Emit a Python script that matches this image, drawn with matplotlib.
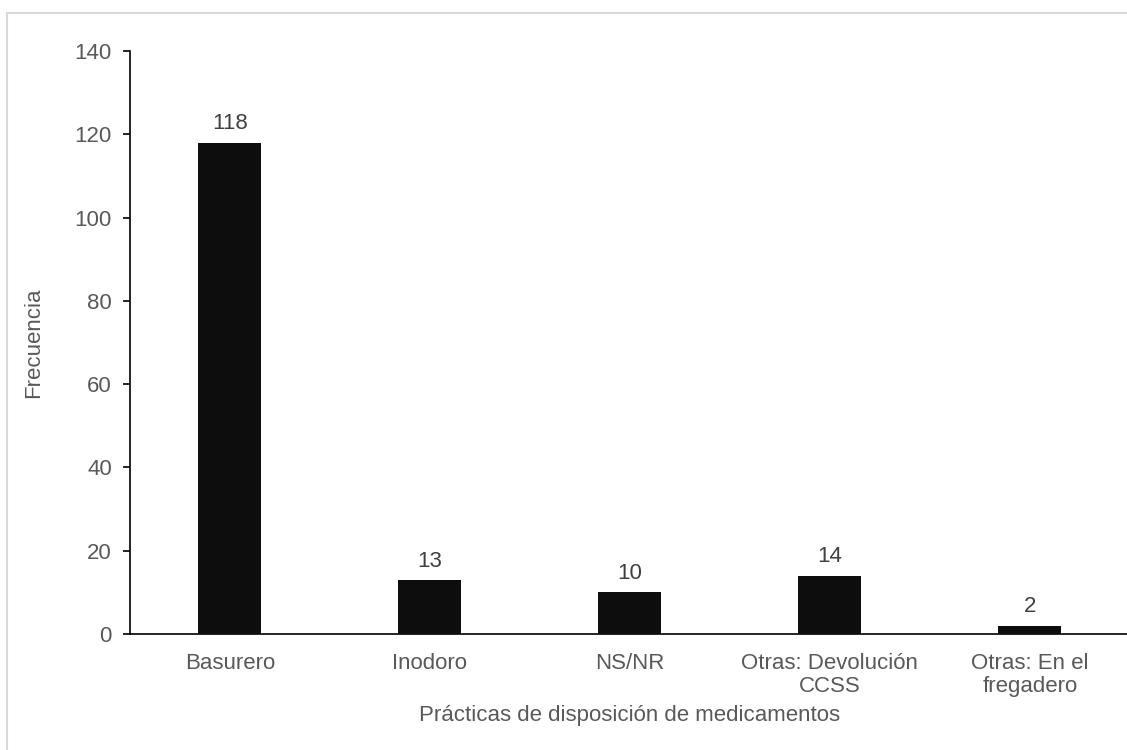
import matplotlib.pyplot as plt
from matplotlib.patches import Rectangle

plt.rcParams['font.family'] = ['Liberation Sans', 'DejaVu Sans']

# Frequencies of each medication disposal practice
categories = ['Basurero', 'Inodoro', 'NS/NR', 'Otras: Devolución\nCCSS', 'Otras: En el\nfregadero']
frequency = [118, 13, 10, 14, 2]
yticks = [0, 20, 40, 60, 80, 100, 120, 140]

text_color = '#595959'
fs = 16

fig = plt.figure(figsize=(11.27, 7.5), dpi=100)
ax = fig.add_axes([0.1153, 0.1547, 0.8873, 0.7773])

pos = list(range(len(categories)))
bars = ax.bar(pos, frequency, width=0.315, color='#0d0d0d', zorder=3)

# Value labels over each bar
for x, v in zip(pos, frequency):
    ax.annotate(str(v), (x, v), xytext=(0, 6), textcoords='offset points',
                ha='center', va='bottom', fontsize=fs, color='#404040')

ax.set_xlim(-0.5, len(categories) - 0.5)
ax.set_ylim(0, 140)
ax.set_yticks(yticks)
ax.set_xticks(pos)
ax.set_xticklabels(categories, fontsize=fs, color=text_color, linespacing=1.12)
ax.tick_params(axis='y', labelsize=fs, labelcolor=text_color, length=5, width=1.2, pad=8)
ax.tick_params(axis='x', length=0, pad=14)

for side in ['top', 'right']:
    ax.spines[side].set_visible(False)
ax.spines['left'].set_linewidth(1.2)
ax.spines['bottom'].set_linewidth(1.2)

ax.set_ylabel('Frecuencia', fontsize=fs, color=text_color, va='center')
ax.yaxis.set_label_coords(-0.096, 0.5)
ax.set_xlabel('Prácticas de disposición de medicamentos', fontsize=fs, color=text_color, va='center')
ax.xaxis.set_label_coords(0.5, -0.139)

# Light chart-area border
fig.patches.append(Rectangle((7 / 1127, -0.05), 1.2, 1 - 13 / 750 + 0.05,
                             transform=fig.transFigure, fill=False,
                             edgecolor='#d9d9d9', linewidth=1.5))

fig.savefig('out.png', dpi=100)
plt.close()
